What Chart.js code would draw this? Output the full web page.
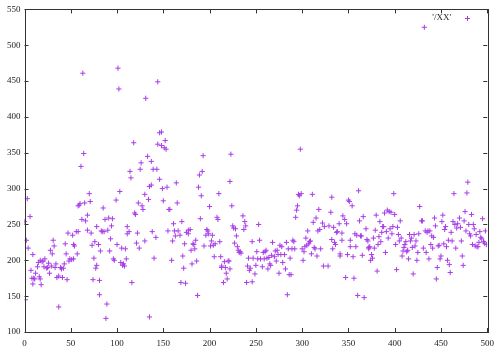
<!DOCTYPE html>
<html>
<head>
<meta charset="utf-8">
<script src="https://cdn.jsdelivr.net/npm/chart.js@4/dist/chart.umd.min.js"></script>
<style>
  html, body { margin: 0; padding: 0; background: #fff; }
  #c { display: block; }
</style>
</head>
<body>
<canvas id="c" width="500" height="351"></canvas>
<script>
// ---------------- data ('/XX') ----------------
var xs = [0,2,1,3,4,6,7,8,9,9,10,11,12,14,15,16,17,18,17,19,20,21,22,24,25,26,27,28,29,30,31,32,33,34,35,37,37,39,40,41,42,43,44,45,46,47,48,49,51,52,53,53,54,56,57,58,58,59,60,61,62,63,64,65,66,68,68,70,71,72,73,74,75,76,77,78,78,80,81,81,82,83,84,85,86,87,88,89,90,91,92,93,94,95,96,97,99,100,101,102,103,104,105,106,107,108,109,110,111,111,113,114,115,116,118,119,120,121,122,123,124,125,126,127,128,130,130,131,133,134,135,135,137,137,138,139,140,142,143,144,144,146,146,148,148,149,150,151,152,153,154,155,156,
  157,159,160,161,162,163,164,165,166,168,169,170,171,172,173,174,175,177,177,179,180,181,182,183,184,185,186,187,188,189,190,191,192,193,194,196,197,198,199,200,201,202,203,204,205,206,208,209,210,211,212,213,213,215,216,217,218,219,220,221,222,222,223,224,225,226,227,228,229,230,231,232,233,234,236,237,238,239,240,241,242,243,244,246,246,247,249,250,251,252,253,254,255,257,258,259,260,261,262,263,264,265,266,267,268,270,271,272,273,274,275,276,277,278,279,281,282,283,284,285,286,287,288,289,290,291,292,293,294,295,296,297,298,299,300,301,302,303,304,305,306,307,308,309,310,311,312,313,314,315,316,317,318,319,320,322,323,324,
  328,329,331,332,332,333,334,335,336,337,338,340,341,341,343,343,344,346,347,348,349,350,351,352,352,354,355,356,357,358,359,360,361,362,363,364,365,366,367,369,370,371,372,372,373,374,375,376,377,378,379,380,381,382,383,384,385,386,387,388,389,390,391,392,393,394,395,396,397,398,399,400,401,402,403,404,405,406,407,408,409,410,411,412,413,414,415,416,417,418,419,420,421,422,423,424,425,426,427,432,429,430,431,433,434,435,436,437,438,439,440,441,442,443,444,445,446,447,448,449,450,451,452,453,454,455,456,457,458,459,460,461,462,463,464,465,466,467,468,470,471,472,473,474,475,476,477,478,479,480,481,482,483,484,485,486,487,488,489,490,491,492,493,494,495,496,497,498,499];
var ys = [254,228,145,286,217,261,186,175,208,167,175,174,182,191,197,177,174,166,200,198,199,191,202,189,190,196,182,214,192,209,228,220,190,195,176,135,178,190,188,176,189,195,223,209,173,238,199,202,201,235,202,222,220,240,209,240,276,277,279,331,257,461,349,280,255,242,263,293,282,238,221,173,203,226,189,193,247,222,172,152,213,241,240,273,240,257,119,139,242,259,213,230,248,258,202,200,284,222,468,439,296,197,217,193,195,192,216,202,237,247,240,324,315,169,364,266,264,224,238,280,217,327,336,276,271,227,292,426,345,285,121,303,338,305,240,327,203,232,327,362,449,313,378,379,360,300,283,357,367,355,302,241,271,
  271,200,227,251,241,234,308,280,241,235,169,254,206,189,223,168,239,242,237,243,214,195,223,222,216,228,199,151,302,319,258,290,324,346,220,235,243,241,237,275,220,227,235,221,205,223,260,257,293,226,205,192,190,169,198,190,182,174,199,199,188,310,348,276,248,245,224,244,234,219,214,211,212,210,262,243,254,248,169,192,203,186,189,170,226,203,181,193,212,202,250,228,202,191,211,202,212,214,203,188,204,195,193,207,225,205,213,199,214,208,182,221,208,219,197,208,188,225,152,216,180,203,180,216,228,226,216,260,270,276,292,290,355,293,216,200,212,219,231,221,241,223,226,227,209,292,253,218,216,259,206,241,271,243,216,252,192,247,
  192,248,267,288,229,216,246,225,222,239,240,251,209,206,238,228,262,257,176,251,208,284,282,228,219,276,205,175,237,219,235,151,297,255,234,234,207,261,148,244,229,227,218,216,219,200,208,203,231,217,242,263,185,222,233,254,226,239,247,247,266,211,240,270,231,268,244,267,237,247,293,264,222,187,246,236,227,255,231,206,213,218,222,226,212,214,202,236,227,231,218,181,236,220,227,200,211,237,275,525,255,255,217,241,211,239,241,202,241,222,234,217,232,259,248,174,190,220,221,202,206,254,263,223,243,247,219,200,228,194,183,239,227,254,293,250,217,245,251,259,246,227,206,193,255,268,241,294,309,250,237,234,264,222,250,244,220,236,219,219,225,240,232,230,258,226,224,241,222,230];
var seriesName = "'/XX'";
var xTicks = [0, 50, 100, 150, 200, 250, 300, 350, 400, 450, 500];
var yTicks = [100, 150, 200, 250, 300, 350, 400, 450, 500, 550];

var pts = [];
for (var i = 0; i < Math.min(xs.length, ys.length); i++) {
	pts.push({x: xs[i], y: ys[i]});
}

var purple = '#a83ee8';
var labelFont = {family: "'Liberation Serif', 'DejaVu Serif', serif", size: 9};

// gnuplot 스타일 테두리 + 안쪽 눈금 + 범례
var gnuFrame = {
	id: 'gnuFrame',
	afterDraw: function(chart) {
		var ctx = chart.ctx;
		var a = chart.chartArea;
		var sx = chart.scales.x, sy = chart.scales.y;
		ctx.save();
		ctx.strokeStyle = '#333';
		ctx.lineWidth = 1;
		ctx.beginPath();
		xTicks.forEach(function(v) {
			var px = Math.round(sx.getPixelForValue(v)) + 0.5;
			ctx.moveTo(px, a.bottom); ctx.lineTo(px, a.bottom - 4);
			ctx.moveTo(px, a.top); ctx.lineTo(px, a.top + 4);
		});
		yTicks.forEach(function(v) {
			var py = Math.round(sy.getPixelForValue(v)) + 0.5;
			ctx.moveTo(a.left, py); ctx.lineTo(a.left + 4, py);
			ctx.moveTo(a.right, py); ctx.lineTo(a.right - 4, py);
		});
		ctx.stroke();
		ctx.strokeRect(Math.round(a.left) + 0.5, Math.round(a.top) + 0.5,
			Math.round(a.right - a.left), Math.round(a.bottom - a.top));

		// 범례
		ctx.font = labelFont.size + 'px ' + labelFont.family;
		ctx.fillStyle = '#222';
		ctx.textAlign = 'right';
		ctx.textBaseline = 'middle';
		ctx.fillText(seriesName, 451, 18);
		ctx.strokeStyle = purple;
		ctx.beginPath();
		ctx.moveTo(465, 18.5); ctx.lineTo(470, 18.5);
		ctx.moveTo(467.5, 16); ctx.lineTo(467.5, 21);
		ctx.stroke();
		ctx.restore();
	}
};

var chart = new Chart(document.getElementById('c').getContext('2d'), {
	type: 'scatter',
	data: {
		datasets: [{
			label: seriesName,
			data: pts,
			pointStyle: 'cross',
			pointRadius: 2.6,
			pointBorderWidth: 1,
			borderColor: purple,
			backgroundColor: purple
		}]
	},
	options: {
		responsive: false,
		animation: false,
		layout: {padding: {top: 8, right: 11, left: 0, bottom: 0}},
		plugins: {
			legend: {display: false},
			tooltip: {enabled: false}
		},
		scales: {
			x: {
				type: 'linear',
				min: 0, max: 500,
				afterBuildTicks: function(s) { s.ticks = xTicks.map(function(v) { return {value: v}; }); },
				afterFit: function(s) { s.height = 19; },
				grid: {display: false, drawTicks: false},
				border: {display: false},
				ticks: {font: labelFont, color: '#222', padding: 6, maxRotation: 0}
			},
			y: {
				type: 'linear',
				min: 100, max: 550,
				afterBuildTicks: function(s) { s.ticks = yTicks.map(function(v) { return {value: v}; }); },
				afterFit: function(s) { s.width = 24.5; },
				grid: {display: false, drawTicks: false},
				border: {display: false},
				ticks: {font: labelFont, color: '#222', padding: 4}
			}
		}
	},
	plugins: [gnuFrame]
});
</script>
</body>
</html>
